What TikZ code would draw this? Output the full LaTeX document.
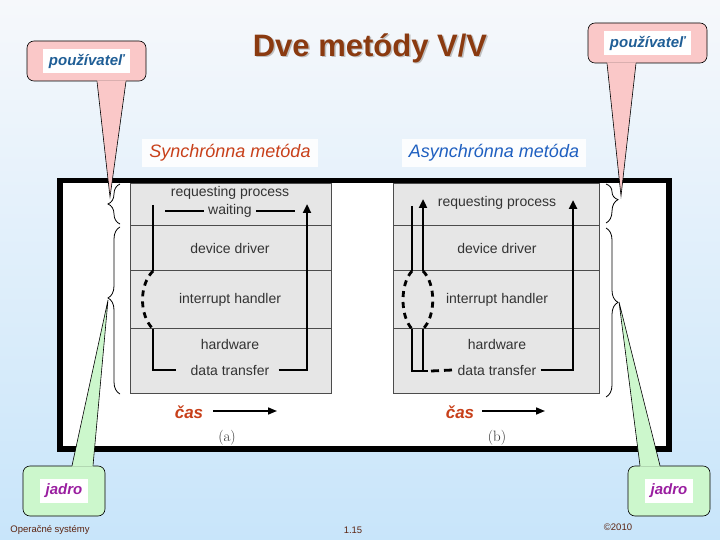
\documentclass[tikz,border=0pt]{standalone}
\usepackage{fontspec}
\setmainfont{Liberation Sans}
\usepackage{xcolor}
\usepackage{tikz}
\usetikzlibrary{calc,arrows.meta,positioning,decorations.pathreplacing}
\definecolor{titlebrown}{HTML}{8A3A10}
\definecolor{synred}{HTML}{C8401A}
\definecolor{asynblue}{HTML}{1E5FC0}
\definecolor{userblue}{HTML}{1F5E96}
\definecolor{kernpurple}{HTML}{9A1EA0}
\definecolor{calloutpink}{HTML}{FAC8C8}
\definecolor{calloutgreen}{HTML}{CCF7CC}
\definecolor{panelgray}{HTML}{E6E6E6}
\definecolor{bgtop}{HTML}{F6F8FB}
\definecolor{bgbottom}{HTML}{C8E5FA}
\definecolor{footbrown}{HTML}{5C2410}

\begin{document}
\begin{tikzpicture}[x=1pt, y=-1pt,
    panel/.style={draw=black!70, fill=panelgray, line width=0.9pt},
    rowline/.style={draw=black!70, line width=0.9pt},
    layer/.style={font=\fontsize{14}{16}\selectfont, text=black!80, inner sep=1pt},
    flow/.style={line width=2.8pt},
    flowdash/.style={line width=2.8pt, dash pattern=on 6pt off 5pt},
    flowarrow/.style={line width=2.8pt, -{Triangle[length=9pt,width=8pt]}},
    timearrow/.style={line width=1.6pt, -{Triangle[length=9pt,width=7pt]}},
    kbrace/.style={decorate, decoration={brace, amplitude=12pt, #1}, line width=0.8pt},
    callout/.style={draw=black, rounded corners=7pt, line width=0.6pt},
    calltext/.style={fill=white, font=\bfseries\itshape\fontsize{15}{17}\selectfont, inner xsep=6pt, inner ysep=5pt},
    method/.style={fill=white!70!bgtop, font=\itshape\fontsize{18}{20}\selectfont, inner xsep=7pt, inner ysep=6pt},
    cas/.style={text=synred, font=\bfseries\itshape\fontsize{17}{19}\selectfont},
    sublabel/.style={font=\fontfamily{lmr}\fontsize{15}{17}\selectfont, text=black!80},
    foot/.style={text=footbrown, font=\fontsize{9.5}{11}\selectfont}
]
% background and frame
\shade[top color=bgtop, bottom color=bgbottom] (0,0) rectangle (720,540);
\useasboundingbox (0,0) rectangle (720,540);
\draw[line width=5.5pt, fill=white] (60,180.5) rectangle (669,449);

% title
\node[text=black!25, font=\bfseries\fontsize{31}{34}\selectfont] at (371.5,49.5) {Dve metódy V/V};
\node[text=titlebrown, font=\bfseries\fontsize{31}{34}\selectfont] (title) at (370,48) {Dve metódy V/V};

\node[method, text=synred] (sync) at (230,153) {Synchrónna metóda};
\node[method, text=asynblue] (async) at (494,153) {Asynchrónna metóda};

% (a) synchronous
\draw[panel] (130,183) rectangle (331,393);
\draw[rowline] (130,225) -- (331,225);
\draw[rowline] (130,270) -- (331,270);
\draw[rowline] (130,328) -- (331,328);
\node[layer] (a-req) at (230,193) {requesting process};
\node[layer] (a-wait) at (230,211) {waiting};
\node[layer] (a-drv) at (230,248) {device driver};
\node[layer] (a-int) at (230,300) {interrupt handler};
\node[layer] (a-hw) at (230,344) {hardware};
\node[layer] (a-dt) at (230,370) {data transfer};
\draw[line width=1.6pt] (165,211) -- ([xshift=-3pt]a-wait.west);
\draw[line width=1.6pt] ([xshift=3pt]a-wait.east) -- (295,211);
\draw[flow] (153,205) -- (153,271);
\draw[flowdash] (153,271) .. controls (139,285) and (139,315) .. (153,329);
\draw[flow] (153,329) |- ([xshift=-14pt]a-dt.west);
\draw[flowarrow] ([xshift=8pt]a-dt.east) -| (307,204);
\node[cas] (a-cas) at (189,412) {čas};
\draw[timearrow] (213,411) -- (277,411);
\node[sublabel] (a-lbl) at (227,438) {(a)};

% (b) asynchronous
\draw[panel] (393,183) rectangle (599,393);
\draw[rowline] (393,225) -- (599,225);
\draw[rowline] (393,270) -- (599,270);
\draw[rowline] (393,328) -- (599,328);
\node[layer] (b-req) at (497,203) {requesting process};
\node[layer] (b-drv) at (497,248) {device driver};
\node[layer] (b-int) at (497,300) {interrupt handler};
\node[layer] (b-hw) at (497,344) {hardware};
\node[layer] (b-dt) at (497,370) {data transfer};
\draw[flow] (412,206) -- (412,271);
\draw[flowarrow] (423,271) -- (423,199);
\draw[flowdash] (412,271) .. controls (400,284) and (400,316) .. (412,329);
\draw[flowdash] (423,271) .. controls (436,284) and (436,316) .. (423,329);
\draw[flow] (412,329) -- (412,371) -- (428,371);
\draw[flow] (423,329) -- (423,371);
\draw[flowdash, dash pattern=on 8pt off 5pt] (431,371) -- ([xshift=-4pt]b-dt.west);
\draw[flowarrow] ([xshift=3pt]b-dt.east) -| (573,200);
\node[cas] (b-cas) at (460,412) {čas};
\draw[timearrow] (482,411) -- (545,411);
\node[sublabel] (b-lbl) at (497,438) {(b)};

% braces
\draw[kbrace={aspect=0.5}] (120,224) -- (120,184);
\draw[kbrace={aspect=0.575}] (120,394) -- (120,227);
\draw[kbrace={aspect=0.4}] (606,184) -- (606,223);
\draw[kbrace={aspect=0.44}] (606,228) -- (606,397);
\coordinate (uTipA) at (110,197);
\coordinate (kTipA) at (108,300);
\coordinate (uTipB) at (621,196);
\coordinate (kTipB) at (619,302);

% callouts
\node[callout, fill=calloutpink, minimum width=119pt, minimum height=40pt] (userA) at (86.5,61) {};
\fill[calloutpink] ($(userA.south)+(10.5,-1)$) -- (uTipA) -- ($(userA.south)+(39.5,-1)$) -- cycle;
\draw[line width=0.6pt] ($(userA.south)+(10.5,0)$) -- (uTipA) -- ($(userA.south)+(39.5,0)$);
\node[calltext, text=userblue] (userA-txt) at (userA) {používateľ};

\node[callout, fill=calloutpink, minimum width=119pt, minimum height=40pt] (userB) at (647.5,43) {};
\fill[calloutpink] ($(userB.south)+(-40.5,-1)$) -- (uTipB) -- ($(userB.south)+(-11.5,-1)$) -- cycle;
\draw[line width=0.6pt] ($(userB.south)+(-40.5,0)$) -- (uTipB) -- ($(userB.south)+(-11.5,0)$);
\node[calltext, text=userblue] (userB-txt) at (userB) {používateľ};

\node[callout, fill=calloutgreen, minimum width=82pt, minimum height=50pt] (kernA) at (64,491) {};
\fill[calloutgreen] ($(kernA.north)+(8,1)$) -- (kTipA) -- ($(kernA.north)+(29,1)$) -- cycle;
\draw[line width=0.6pt] ($(kernA.north)+(8,0)$) -- (kTipA) -- ($(kernA.north)+(29,0)$);
\node[calltext, text=kernpurple] (kernA-txt) at (kernA) {jadro};

\node[callout, fill=calloutgreen, minimum width=82pt, minimum height=50pt] (kernB) at (669,491) {};
\fill[calloutgreen] ($(kernB.north)+(-29,1)$) -- (kTipB) -- ($(kernB.north)+(-9,1)$) -- cycle;
\draw[line width=0.6pt] ($(kernB.north)+(-29,0)$) -- (kTipB) -- ($(kernB.north)+(-9,0)$);
\node[calltext, text=kernpurple] (kernB-txt) at (kernB) {jadro};

% footer
\node[foot] (os) at (50,530) {Operačné systémy};
\node[foot] (page) at (353,530) {1.15};
\node[foot] (year) at (618,527) {©2010};
\end{tikzpicture}
\end{document}
